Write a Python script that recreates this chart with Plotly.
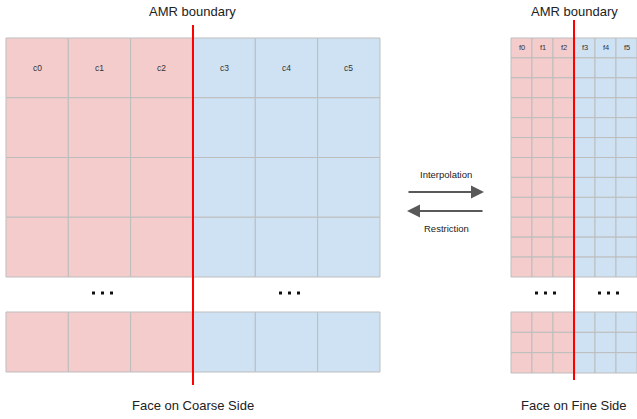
import plotly.graph_objects as go

# ---- data ----
coarse_labels = ["c0", "c1", "c2", "c3", "c4", "c5"]
fine_labels = ["f0", "f1", "f2", "f3", "f4", "f5"]
coarse_top_rows = 4
coarse_bottom_rows = 1
fine_top_rows = 12
fine_bottom_rows = 3
side_titles = ["Face on Coarse Side", "Face on Fine Side"]
boundary_title = "AMR boundary"
arrow_labels = ["Interpolation", "Restriction"]

# ---- layout geometry (pixels) ----
W, H = 637, 419
PINK = "#f4cccc"
BLUE = "#cfe2f3"
GRID = "#bdbdbd"
RED = "#ff0000"
TXT = "#222222"
FONT = "Liberation Sans, Arial, sans-serif"

blocks = [
    dict(x0=6, cw=62.33, labels=coarse_labels, ty=38, th=239, tr=coarse_top_rows,
         by=312, bh=60, br=coarse_bottom_rows, fs=8.5),
    dict(x0=511, cw=21.0, labels=fine_labels, ty=38, th=239, tr=fine_top_rows,
         by=312, bh=61, br=fine_bottom_rows, fs=7.5),
]

shapes = []
annotations = []
fig = go.Figure()

for bi, b in enumerate(blocks):
    n = len(b["labels"])
    half = n // 2
    for (y0, hgt, rows) in [(b["ty"], b["th"], b["tr"]), (b["by"], b["bh"], b["br"])]:
        rh = hgt / rows
        for r in range(rows):
            for c in range(n):
                shapes.append(dict(
                    type="rect", xref="x", yref="y",
                    x0=b["x0"] + c * b["cw"], x1=b["x0"] + (c + 1) * b["cw"],
                    y0=y0 + r * rh, y1=y0 + (r + 1) * rh,
                    fillcolor=PINK if c < half else BLUE,
                    line=dict(color=GRID, width=1), layer="below"))
    rh_top = b["th"] / b["tr"]
    for c, lab in enumerate(b["labels"]):
        annotations.append(dict(
            x=b["x0"] + (c + 0.5) * b["cw"], y=b["ty"] + rh_top / 2,
            xref="x", yref="y", text=lab, showarrow=False,
            font=dict(family=FONT, size=b["fs"], color="#333333")))
    xb = b["x0"] + half * b["cw"]
    shapes.append(dict(type="line", xref="x", yref="y", x0=xb, x1=xb, y0=25 if bi == 0 else 20,
                       y1=385 if bi == 0 else 380, line=dict(color=RED, width=2), layer="above"))
    annotations.append(dict(x=xb, y=11, xref="x", yref="y", text=boundary_title, showarrow=False,
                            font=dict(family=FONT, size=13, color=TXT)))
    annotations.append(dict(x=xb, y=405, xref="x", yref="y", text=side_titles[bi], showarrow=False,
                            font=dict(family=FONT, size=13, color=TXT)))
    xs, ys = [], []
    right = b["x0"] + n * b["cw"]
    for cx in [(b["x0"] + xb) / 2 + 3, (xb + right) / 2 + 3]:
        for k in (-1, 0, 1):
            xs.append(cx + k * 9)
            ys.append(293)
    fig.add_trace(go.Scatter(x=xs, y=ys, mode="markers", hoverinfo="skip",
                             marker=dict(symbol="square", size=3, color="#111111", line=dict(width=0))))

ARROW = "#595959"
annotations.append(dict(x=484, y=192, ax=407, ay=192, xref="x", yref="y", axref="x", ayref="y",
                        text="", showarrow=True, arrowhead=2, arrowsize=1.3, arrowwidth=2,
                        arrowcolor=ARROW))
annotations.append(dict(x=407, y=211, ax=484, ay=211, xref="x", yref="y", axref="x", ayref="y",
                        text="", showarrow=True, arrowhead=2, arrowsize=1.3, arrowwidth=2,
                        arrowcolor=ARROW))
annotations.append(dict(x=446, y=174, xref="x", yref="y", text=arrow_labels[0], showarrow=False,
                        font=dict(family=FONT, size=9.5, color=TXT)))
annotations.append(dict(x=446, y=228, xref="x", yref="y", text=arrow_labels[1], showarrow=False,
                        font=dict(family=FONT, size=9.5, color=TXT)))

fig.update_layout(
    width=W, height=H, margin=dict(l=0, r=0, t=0, b=0),
    paper_bgcolor="white", plot_bgcolor="white", showlegend=False,
    xaxis=dict(range=[0, W], visible=False, fixedrange=True),
    yaxis=dict(range=[H, 0], visible=False, fixedrange=True),
    shapes=shapes, annotations=annotations,
)
fig.write_html("out.html", config={"displayModeBar": False},
               post_script="document.body.style.margin='0';document.body.style.overflow='hidden';")
